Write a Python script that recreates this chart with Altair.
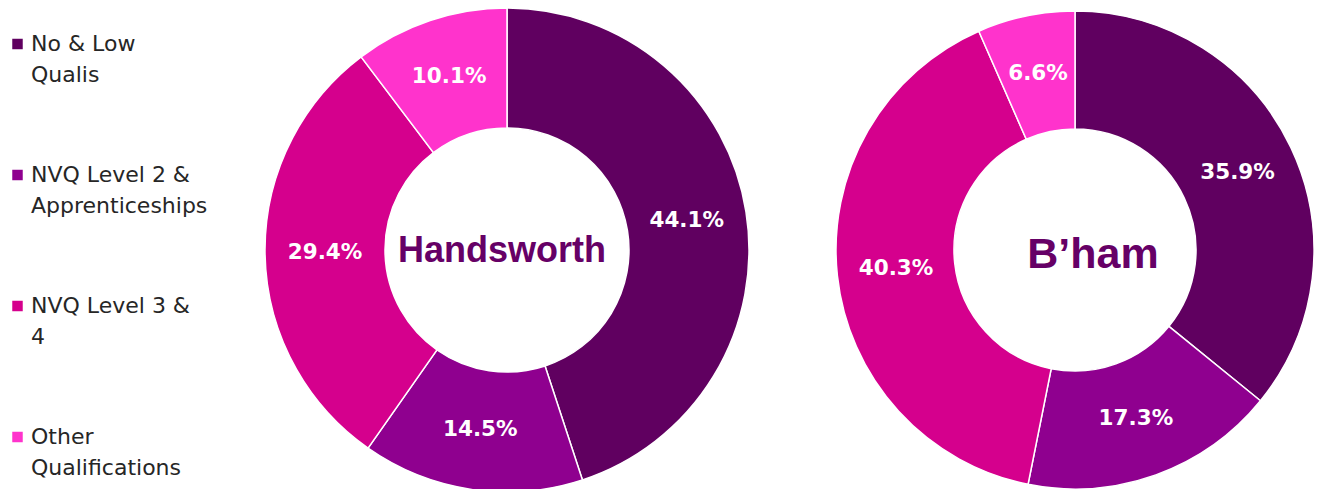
import altair as alt
import pandas as pd

categories = ["No & Low|Qualis", "\u2002NVQ Level 2 &|Apprenticeships", "NVQ Level 3 &|4", "Other|Qualifications"]
handsworth = [44.1, 14.5, 29.4, 10.1]
birmingham = [35.9, 17.3, 40.3, 6.6]
areas = ["Handsworth", "B\u2019ham"]
colors = ["#600060", "#8f008f", "#d5008d", "#ff33cc"]

rows = []
for area, vals in zip(areas, [handsworth, birmingham]):
    for i, (c, v) in enumerate(zip(categories, vals)):
        rows.append({"area": area, "cat": c, "order": i, "value": v, "label": f"{v:.1f}%"})
df = pd.DataFrame(rows)
titles = pd.DataFrame({"area": areas})
leg = pd.DataFrame({"cat": categories})

color = alt.Color("cat:N", sort=categories,
                  scale=alt.Scale(domain=categories, range=colors), legend=None)

def donut(area, cx, cy, r_out, r_in):
    base = alt.Chart(df).transform_filter(alt.datum.area == area)
    arc = base.mark_arc(outerRadius=r_out, innerRadius=r_in, stroke="white", strokeWidth=1.5).encode(
        theta=alt.Theta("value:Q", stack=True),
        order=alt.Order("order:Q"),
        color=color,
        x=alt.value(cx), y=alt.value(cy),
    )
    txt = base.mark_text(radius=(r_out + r_in) / 2, font="DejaVu Sans", fontWeight="bold",
                         fontSize=21.5, color="white").encode(
        theta=alt.Theta("value:Q", stack=True),
        order=alt.Order("order:Q"),
        text="label:N",
        x=alt.value(cx), y=alt.value(cy),
    )
    return arc, txt

a1, t1 = donut("Handsworth", 499, 242, 242, 122)
a2, t2 = donut("B\u2019ham", 1067, 242, 239, 121)

title1 = alt.Chart(titles).transform_filter(alt.datum.area == "Handsworth").mark_text(
    font="Liberation Sans", fontWeight="bold", fontSize=36, color="#660066", baseline="alphabetic"
).encode(text="area:N", x=alt.value(494), y=alt.value(254))
title2 = alt.Chart(titles).transform_filter(alt.datum.area == "B\u2019ham").mark_text(
    font="Liberation Sans", fontWeight="bold", fontSize=43, color="#660066", baseline="alphabetic"
).encode(text="area:N", x=alt.value(1085), y=alt.value(260))

ly = alt.Y("cat:N", sort=categories, axis=None,
           scale=alt.Scale(type="point", domain=categories, range=[36, 429], padding=0))
leg_sq = alt.Chart(leg).mark_square(size=110, opacity=1).encode(
    x=alt.value(9.5), y=ly, color=color)
leg_tx = alt.Chart(leg).transform_calculate(lines="split(datum.cat, '|')").mark_text(
    align="left", baseline="middle", font="DejaVu Sans", fontSize=22, color="#262626", lineHeight=31
).encode(x=alt.value(23), y=ly, text="lines:N")

chart = alt.layer(a1, t1, a2, t2, title1, title2, leg_sq, leg_tx).resolve_scale(theta="independent").properties(
    width=1307, height=481, padding=0, autosize="none"
).configure_view(stroke=None)

chart.save("out.html", embed_options={"renderer": "svg", "actions": False})
